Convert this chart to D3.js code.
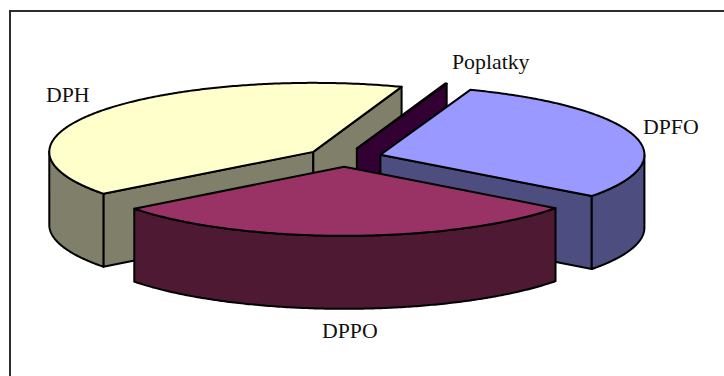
<!DOCTYPE html>
<html>
<head>
<meta charset="utf-8">
<script src="https://cdn.jsdelivr.net/npm/d3@7/dist/d3.min.js"></script>
<style>
html, body { margin: 0; padding: 0; background: #fff; }
svg { display: block; }
text { font-family: "Liberation Serif", serif; font-size: 21.8px; fill: #111; }
</style>
</head>
<body>
<svg id="chart" width="724" height="376"></svg>
<script>
// Slices in clockwise order from the DPFO leading edge; share of the total in percent.
const categories = ["DPFO", "DPPO", "DPH", "Poplatky"];
const shares = [29.7, 29.4, 40.8, 0.1];
const topColors = ["#9999FF", "#993366", "#FFFFCC", "#660066"];
const wallColors = ["#4D4D80", "#4D1933", "#80806A", "#330033"];
// Back-to-front painting order.
const paintOrder = ["DPH", "Poplatky", "DPFO", "DPPO"];

const width = 724, height = 376;
const cx = 344, cy = 157.4;        // pie centre before slices are pulled out
const rx = 264, ry = 69;           // top-face ellipse
const depth = 73;                  // extrusion height
const explodeX = 38, explodeY = 9.4;
const tau = 2 * Math.PI;
const startDeg = 19.9;

const svg = d3.select("#chart");

// Outer frame
svg.append("path")
  .attr("d", d3.line()([[10, 376], [10, 11], [724, 11]]))
  .attr("fill", "none").attr("stroke", "#2c2c2c").attr("stroke-width", 2);

const pie = d3.pie().sort(null)
  .startAngle(startDeg / 360 * tau)
  .endAngle(startDeg / 360 * tau + tau);
const arcs = pie(shares);

const line = d3.line();

function point(c, a, dz) {
  return [c.x + rx * Math.sin(a), c.y - ry * Math.cos(a) + dz];
}
function arcPoints(c, a0, a1, dz) {
  const n = Math.max(2, Math.ceil(Math.abs(a1 - a0) / 0.01));
  return d3.range(n + 1).map(i => point(c, a0 + (a1 - a0) * i / n, dz));
}

const slices = categories.map((name, i) => {
  const a = arcs[i], mid = (a.startAngle + a.endAngle) / 2;
  return {
    name,
    start: a.startAngle,
    end: a.endAngle,
    top: topColors[i],
    wall: wallColors[i],
    c: { x: cx + explodeX * Math.sin(mid), y: cy - explodeY * Math.cos(mid) }
  };
});

const strokeStyle = g => g
  .attr("stroke", "#000")
  .attr("stroke-width", 2)
  .attr("stroke-linejoin", "round");

paintOrder.forEach(name => {
  const s = slices.find(d => d.name === name);
  const g = svg.append("g").call(strokeStyle);
  const apex = [s.c.x, s.c.y];
  const apexLow = [s.c.x, s.c.y + depth];

  // Radial walls that face the viewer.
  [[s.start, Math.sin(s.start) < 0], [s.end, Math.sin(s.end) > 0]].forEach(([a, visible]) => {
    if (!visible) return;
    const p = point(s.c, a, 0);
    g.append("path")
      .attr("d", line([apex, p, [p[0], p[1] + depth], apexLow]) + "Z")
      .attr("fill", s.wall);
  });

  // Outer rim along the front half of the ellipse.
  const a0 = Math.max(s.start, tau / 4), a1 = Math.min(s.end, 3 * tau / 4);
  if (a1 > a0) {
    const upper = arcPoints(s.c, a0, a1, 0);
    const lower = arcPoints(s.c, a1, a0, depth);
    g.append("path").attr("d", line(upper.concat(lower)) + "Z").attr("fill", s.wall);
  }

  // Top face.
  g.append("path")
    .attr("d", line([apex].concat(arcPoints(s.c, s.start, s.end, 0))) + "Z")
    .attr("fill", s.top);
});

// Category labels.
const labelAnchors = { DPH: [46, 102], Poplatky: [452, 69], DPFO: [643, 134], DPPO: [322, 338] };
categories.forEach(name => {
  svg.append("text")
    .attr("x", labelAnchors[name][0])
    .attr("y", labelAnchors[name][1])
    .text(name);
});
</script>
</body>
</html>
